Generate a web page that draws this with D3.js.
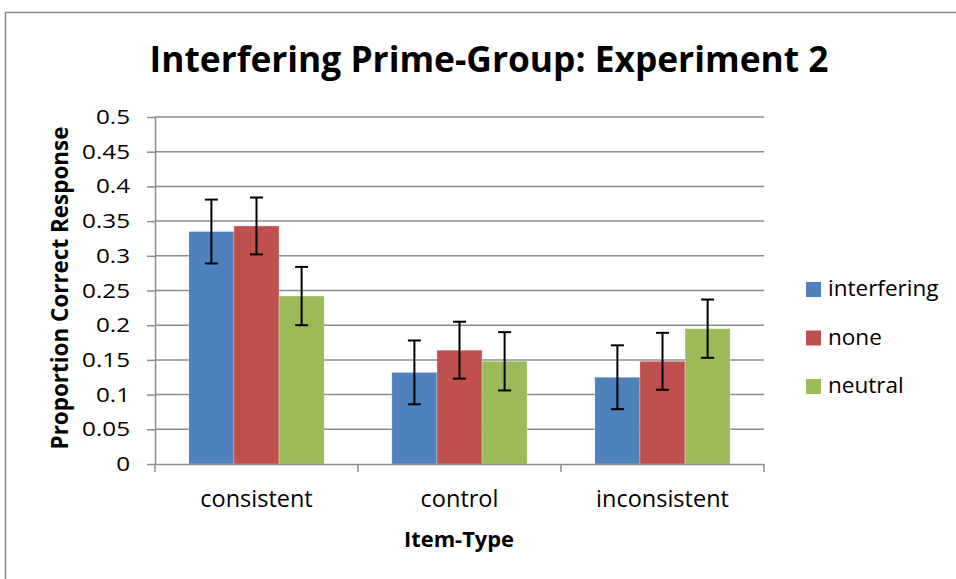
<!DOCTYPE html>
<html>
<head>
<meta charset="utf-8">
<script src="https://cdn.jsdelivr.net/npm/d3@7"></script>
<style>
  body { margin: 0; background: #fff; }
  text { font-family: "Open Sans", "Noto Sans", sans-serif; fill: #000; }
</style>
</head>
<body>
<div id="chart"></div>
<script>
var categories = ["consistent", "control", "inconsistent"];
var series = ["interfering", "none", "neutral"];
var colors = ["#4f81bd", "#c0504d", "#9bbb59"];
// mean proportion per series, one value per category
var interfering = [0.335, 0.132, 0.125];
var none = [0.343, 0.164, 0.148];
var neutral = [0.242, 0.148, 0.195];
// error bar half-lengths
var errInterfering = [0.046, 0.046, 0.046];
var errNone = [0.041, 0.041, 0.041];
var errNeutral = [0.042, 0.042, 0.042];
var yTicks = [0, 0.05, 0.1, 0.15, 0.2, 0.25, 0.3, 0.35, 0.4, 0.45, 0.5];

var values = [interfering, none, neutral];
var errs = [errInterfering, errNone, errNeutral];

var width = 956, height = 579;
var margin = { top: 117, left: 155, right: 192, bottom: 115 };
var plotW = width - margin.left - margin.right;
var plotH = height - margin.top - margin.bottom;

var svg = d3.select("#chart").append("svg")
    .attr("width", width)
    .attr("height", height);

// outer frame
svg.append("rect")
    .attr("x", 5.5).attr("y", 12.5)
    .attr("width", 1000).attr("height", 1000)
    .attr("fill", "none")
    .attr("stroke", "#878787")
    .attr("stroke-width", 1.5);

function fitTo(sel, w) {
    var size = parseFloat(sel.attr("font-size"));
    var len = sel.node().getComputedTextLength();
    sel.attr("font-size", size * w / len);
}

var title = svg.append("text")
    .attr("x", 489).attr("y", 72)
    .attr("text-anchor", "middle")
    .attr("font-weight", "bold")
    .attr("font-size", 32)
    .text("Interfering Prime-Group: Experiment 2");
fitTo(title, 679);

var g = svg.append("g")
    .attr("transform", "translate(" + margin.left + "," + margin.top + ")");

var y = d3.scaleLinear().domain([0, 0.5]).range([plotH, 0]);
var x0 = d3.scaleBand().domain(categories).range([0, plotW]).padding(0);
var x1 = d3.scaleBand().domain(series).range([0, x0.bandwidth()])
    .paddingInner(0).paddingOuter(0.75);

// gridlines
g.append("g").selectAll("line")
    .data(yTicks.slice(1))
    .join("line")
    .attr("x1", 0).attr("x2", plotW)
    .attr("y1", function (d) { return y(d); })
    .attr("y2", function (d) { return y(d); })
    .attr("stroke", "#8c8c8c")
    .attr("stroke-width", 1.5);

// bars
var groups = g.append("g").selectAll("g")
    .data(series)
    .join("g")
    .attr("fill", function (d, i) { return colors[i]; });

groups.selectAll("rect")
    .data(function (s, i) {
        return categories.map(function (c, j) {
            return { cat: c, s: s, v: values[i][j], e: errs[i][j] };
        });
    })
    .join("rect")
    .attr("x", function (d) { return x0(d.cat) + x1(d.s); })
    .attr("y", function (d) { return y(d.v); })
    .attr("width", x1.bandwidth())
    .attr("height", function (d) { return plotH - y(d.v); })
    .attr("stroke", "rgba(255,255,255,0.35)")
    .attr("stroke-width", 0.8);

// error bars
var eb = g.append("g").attr("stroke", "#000").attr("stroke-width", 2);
series.forEach(function (s, i) {
    categories.forEach(function (c, j) {
        var cx = x0(c) + x1(s) + x1.bandwidth() / 2;
        var lo = y(values[i][j] - errs[i][j]);
        var hi = y(values[i][j] + errs[i][j]);
        eb.append("line").attr("x1", cx).attr("x2", cx).attr("y1", lo).attr("y2", hi);
        eb.append("line").attr("x1", cx - 6.5).attr("x2", cx + 6.5).attr("y1", lo).attr("y2", lo);
        eb.append("line").attr("x1", cx - 6.5).attr("x2", cx + 6.5).attr("y1", hi).attr("y2", hi);
    });
});

// y axis
var yAxis = g.append("g")
    .call(d3.axisLeft(y).tickValues(yTicks).tickFormat(d3.format("")).tickSize(8).tickSizeOuter(0));
yAxis.select(".domain").attr("stroke", "#8c8c8c").attr("stroke-width", 1.5);
yAxis.selectAll(".tick line").attr("stroke", "#8c8c8c").attr("stroke-width", 1.5);
var yLabels = yAxis.selectAll(".tick text")
    .attr("x", -25)
    .attr("font-size", 20.5)
    .attr("font-family", "'Open Sans', sans-serif")
    .attr("fill", "#000");
// the tick labels in the picture are a little wider than the font
var ref = yLabels.filter(function (d) { return d === 0.45; }).node();
var k = 48 / ref.getComputedTextLength();
yLabels.attr("transform", "translate(-25,0) scale(" + k + ",1) translate(25,0)");

// x axis
var xAxis = g.append("g")
    .attr("transform", "translate(0," + plotH + ")")
    .call(d3.axisBottom(x0).tickSize(0).tickSizeOuter(0));
xAxis.select(".domain").attr("stroke", "#8c8c8c").attr("stroke-width", 1.5);
xAxis.selectAll(".tick text")
    .attr("y", 26)
    .attr("font-size", 23.5)
    .attr("font-family", "'Open Sans', sans-serif")
    .attr("fill", "#000");
g.append("g").selectAll("line")
    .data(d3.range(categories.length + 1))
    .join("line")
    .attr("x1", function (d) { return d * x0.step(); })
    .attr("x2", function (d) { return d * x0.step(); })
    .attr("y1", plotH).attr("y2", plotH + 8)
    .attr("stroke", "#8c8c8c").attr("stroke-width", 1.5);

// axis titles
var xt = svg.append("text")
    .attr("x", 459).attr("y", 547)
    .attr("text-anchor", "middle")
    .attr("font-weight", "bold")
    .attr("font-size", 18)
    .text("Item-Type");
fitTo(xt, 110);

var yt = svg.append("text")
    .attr("transform", "translate(68,288) rotate(-90)")
    .attr("text-anchor", "middle")
    .attr("font-weight", "bold")
    .attr("font-size", 18)
    .text("Proportion Correct Response");
fitTo(yt, 323);

// legend
var legend = svg.append("g").attr("transform", "translate(806,282)");
var items = legend.selectAll("g")
    .data(series)
    .join("g")
    .attr("transform", function (d, i) { return "translate(0," + i * 48.5 + ")"; });
items.append("rect")
    .attr("width", 15).attr("height", 15)
    .attr("fill", function (d, i) { return colors[i]; });
items.append("text")
    .attr("x", 22).attr("y", 14)
    .attr("font-size", 22.5)
    .text(function (d) { return d; });
</script>
</body>
</html>
